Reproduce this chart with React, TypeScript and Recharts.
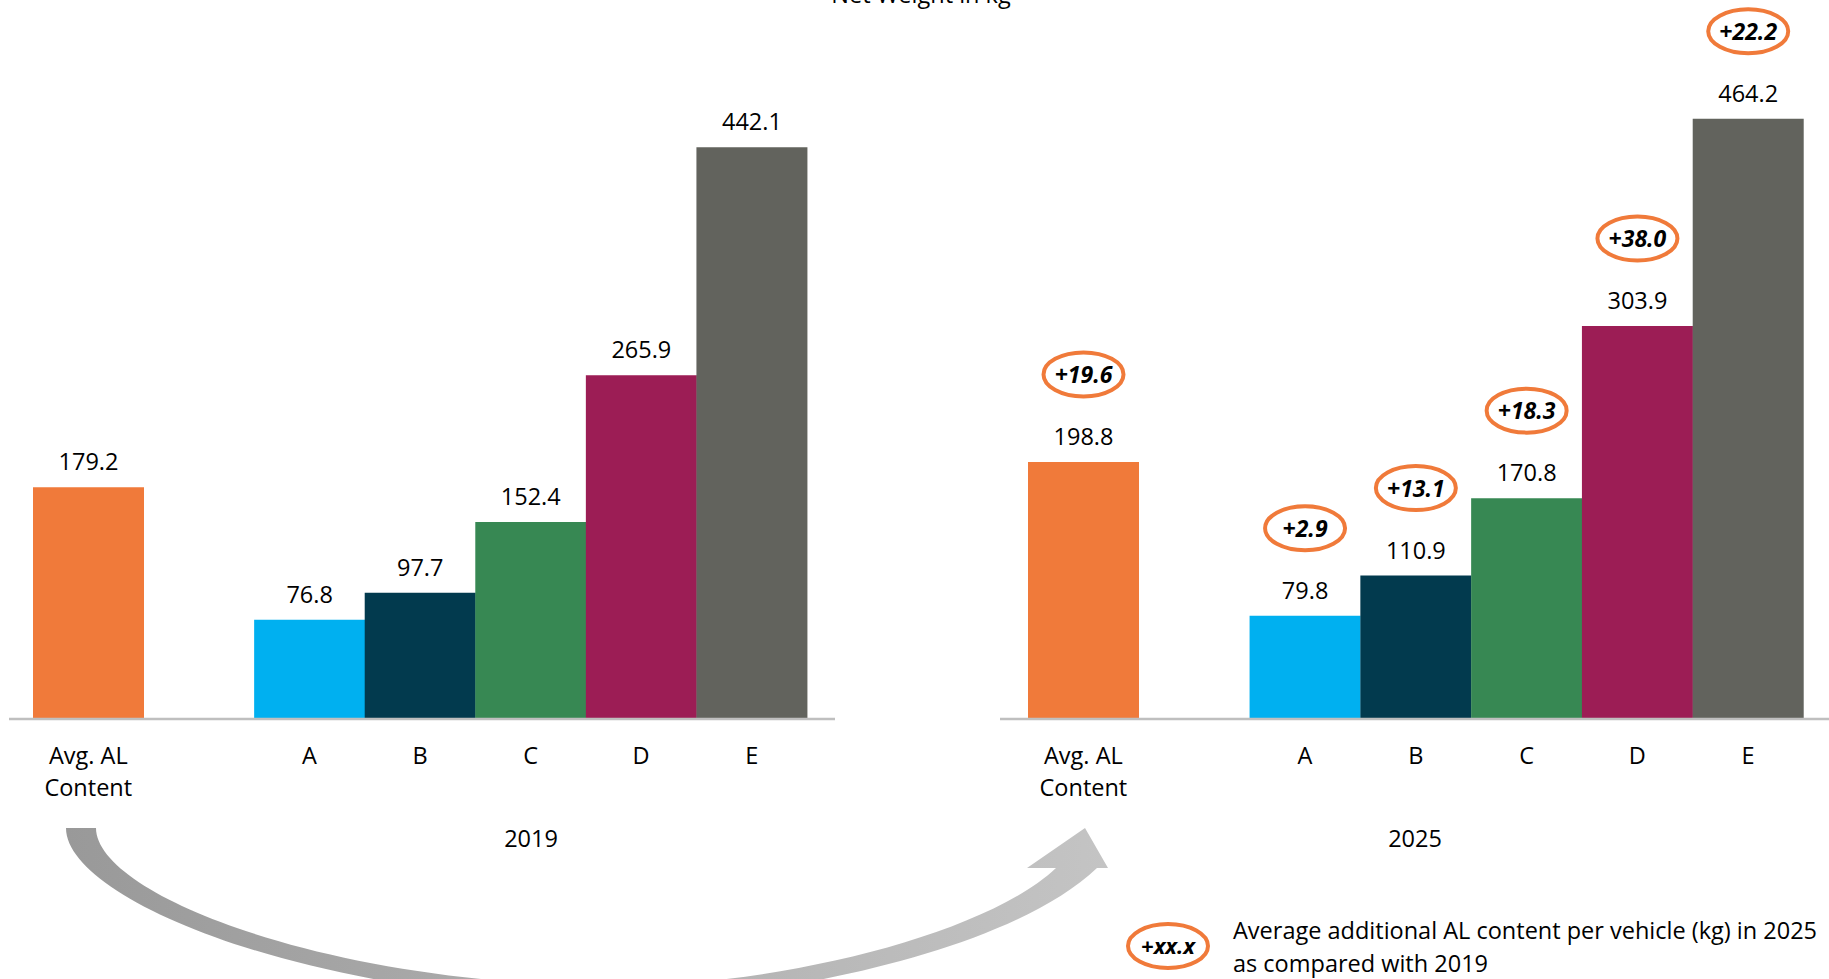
import React from 'react';
import { BarChart, Bar, XAxis, YAxis, Cell, LabelList } from 'recharts';

// Net weight in kg per vehicle class
const categories = ['Avg. AL\nContent', ' ', 'A', 'B', 'C', 'D', 'E'];
const weights2019 = [179.2, null, 76.8, 97.7, 152.4, 265.9, 442.1];
const weights2025 = [198.8, null, 79.8, 110.9, 170.8, 303.9, 464.2];
const increases = ['+19.6', null, '+2.9', '+13.1', '+18.3', '+38.0', '+22.2'];
const barColors = ['#F07A3A', '#FFFFFF', '#00B0F0', '#023A4E', '#378853', '#9C1D55', '#62635D'];

const FONT = '"Open Sans", sans-serif';
const ORANGE = '#F07A3A';
const Y_DOMAIN: [number, number] = [0, 556];

const data2019 = categories.map((c, i) => ({ category: c, weight: weights2019[i] }));
const data2025 = categories.map((c, i) => ({ category: c, weight: weights2025[i], increase: increases[i] }));

const box = (p: any) => {
  const v = p.viewBox && p.viewBox.width !== undefined ? p.viewBox : p;
  return { x: Number(v.x), y: Number(v.y), width: Number(v.width) };
};

const ValueLabel = (props: any) => {
  if (props.value == null) return null;
  const { x, y, width } = box(props);
  return (
    <text x={x + width / 2} y={y - 17} textAnchor="middle" fontFamily={FONT} fontSize={23.5} fill="#000">
      {Number(props.value).toFixed(1)}
    </text>
  );
};

const Bubble = (props: any) => {
  if (props.value == null) return null;
  const { x, y, width } = box(props);
  const cx = x + width / 2;
  const cy = y - 87.5;
  return (
    <g>
      <ellipse cx={cx} cy={cy} rx={40} ry={22} fill="#fff" stroke={ORANGE} strokeWidth={4} />
      <text x={cx} y={cy + 8.5} textAnchor="middle" fontFamily={FONT} fontSize={23} fontWeight="bold" fontStyle="italic" fill="#000">
        {props.value}
      </text>
    </g>
  );
};

const CategoryTick = (props: any) => {
  const { x, y, payload } = props;
  const lines = String(payload.value).trim().split('\n');
  if (!lines[0]) return null;
  return (
    <text x={x} y={y} textAnchor="middle" fontFamily={FONT} fontSize={23.5} fill="#000">
      {lines.map((l, i) => (
        <tspan key={i} x={x} dy={i === 0 ? 44.5 : 32.4}>{l}</tspan>
      ))}
    </text>
  );
};

function YearChart({ data, padding, margin, width, bubbles }: any) {
  return (
    <BarChart width={width} height={979} data={data} barCategoryGap={0} barGap={0}
      margin={{ top: 0, bottom: 200, ...margin }}>
      <XAxis dataKey="category" height={60} tickLine={false} tickSize={0} tickMargin={0}
        interval={0} padding={padding} tick={<CategoryTick />}
        axisLine={{ stroke: '#BFBFBF', strokeWidth: 2.5 }} />
      <YAxis hide type="number" domain={Y_DOMAIN} />
      <Bar dataKey="weight" isAnimationActive={false}>
        {data.map((_: any, i: number) => <Cell key={i} fill={barColors[i]} />)}
        <LabelList dataKey="weight" content={<ValueLabel />} />
        {bubbles && <LabelList dataKey="increase" content={<Bubble />} />}
      </Bar>
    </BarChart>
  );
}

export default function App() {
  return (
    <div style={{ position: 'absolute', left: 0, top: 0, width: 1829, height: 979, overflow: 'hidden', background: '#fff' }}>
      <svg width={1829} height={979} style={{ position: 'absolute', left: 0, top: 0 }}>
        <defs>
          <linearGradient id="arrowFill" x1="0" x2="1" y1="0" y2="0">
            <stop offset="0%" stopColor="#999999" />
            <stop offset="100%" stopColor="#C4C4C4" />
          </linearGradient>
        </defs>
        <text x={921} y={3} textAnchor="middle" fontFamily={FONT} fontSize={23.5} fill="#000">Net Weight in kg</text>
        <path
          d="M 66 828 C 66 900 310 1000 620 1002 C 740 1002 1000 960 1097 868 L 1108 868 L 1085 828 L 1027 868 L 1056 868 C 985 935 780 985 620 986 C 330 986 96 895 96 828 Z"
          fill="url(#arrowFill)" />
        <text x={531} y={847} textAnchor="middle" fontFamily={FONT} fontSize={23.5} fill="#000">2019</text>
        <text x={1415} y={847} textAnchor="middle" fontFamily={FONT} fontSize={23.5} fill="#000">2025</text>
        <ellipse cx={1168} cy={946} rx={40} ry={22} fill="#fff" stroke={ORANGE} strokeWidth={4} />
        <text x={1168} y={954} textAnchor="middle" fontFamily={FONT} fontSize={22} fontWeight="bold" fontStyle="italic" fill="#000">+xx.x</text>
        <text x={1233} y={939} fontFamily={FONT} fontSize={23.5} fill="#000">Average additional AL content per vehicle (kg) in 2025</text>
        <text x={1233} y={971.5} fontFamily={FONT} fontSize={23.5} fill="#000">as compared with 2019</text>
      </svg>
      <div style={{ position: 'absolute', left: 0, top: 0 }}>
        <YearChart data={data2019} width={850} margin={{ left: 9, right: 15 }} padding={{ left: 24, right: 28 }} />
      </div>
      <div style={{ position: 'absolute', left: 990, top: 0 }}>
        <YearChart data={data2025} width={839} margin={{ left: 10, right: 0 }} padding={{ left: 28, right: 25.5 }} bubbles />
      </div>
    </div>
  );
}
